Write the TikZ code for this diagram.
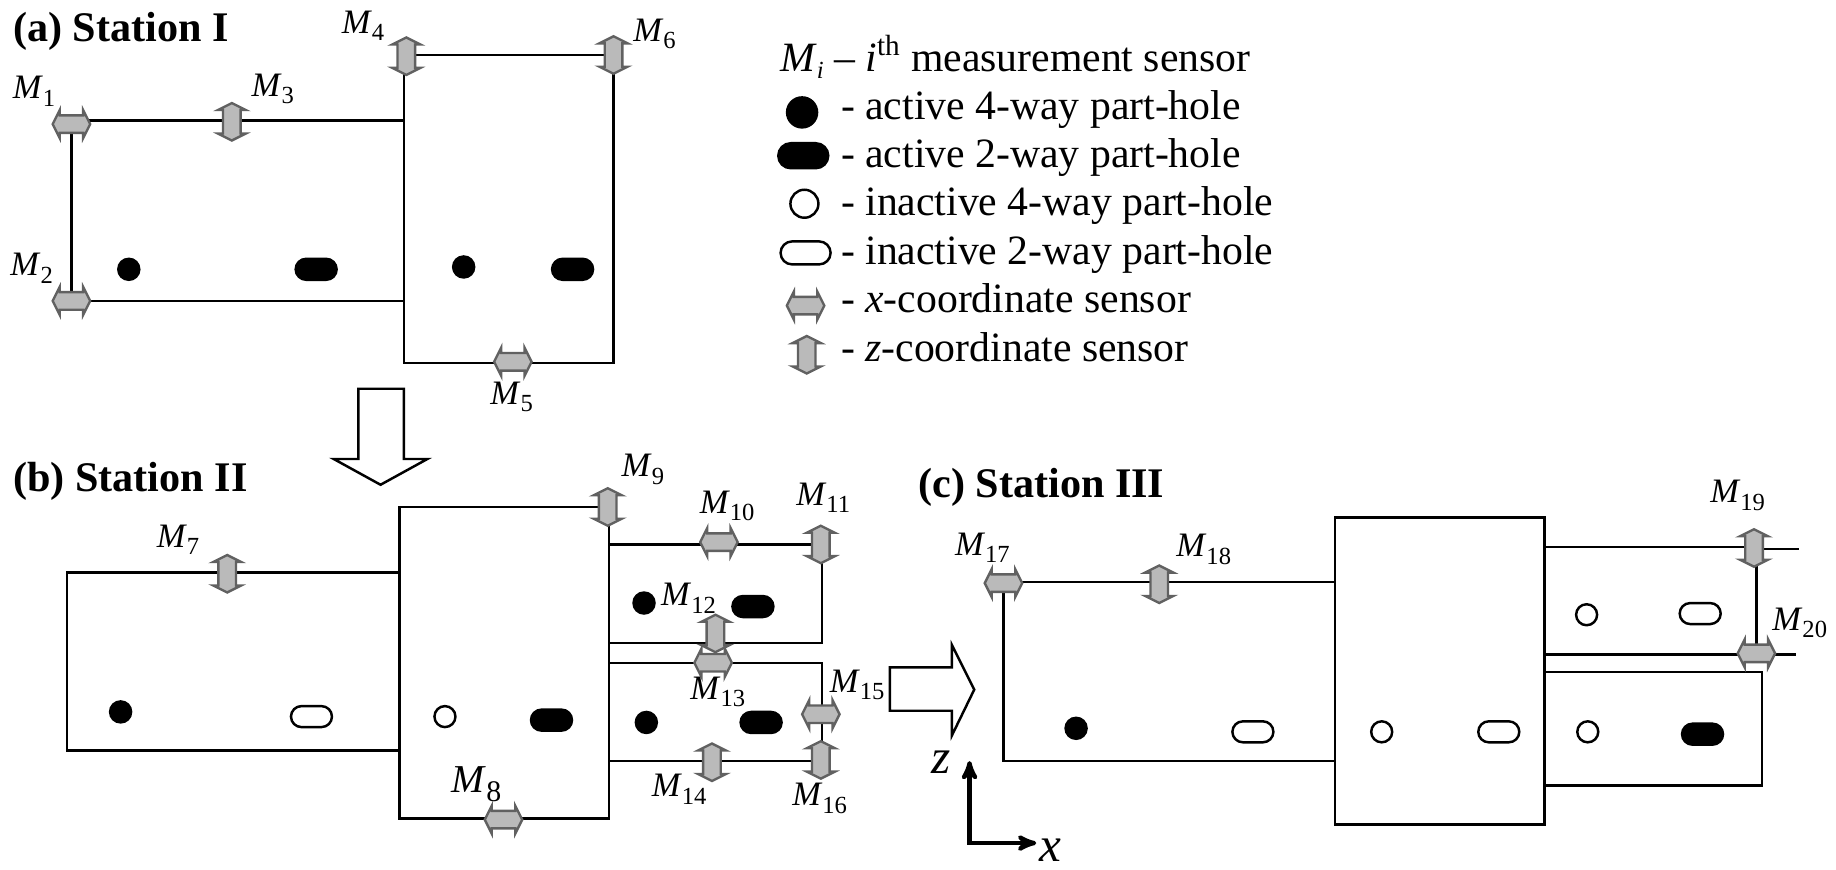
\documentclass[tikz,border=0pt]{standalone}
\usepackage{fontspec}
\setmainfont{Liberation Serif}
\usetikzlibrary{arrows}
\usetikzlibrary{shapes.misc}
\newcommand{\Msub}[1]{\textit{M}\raisebox{-.22em}{\fontsize{14}{14}\selectfont #1}}
\newcommand{\legendfont}{\fontsize{23.75}{28}\selectfont}
\tikzset{
  plate/.style={black, line width=1.4pt},
  sensorline/.style={draw=black!62, fill=black!27, line width=1.35pt, line join=miter},
  xsensor/.pic={\draw[sensorline] (-16,0) -- (-10,-12) -- (-10,-7.5) -- (10,-7.5) -- (10,-12)
    -- (16,0) -- (10,12) -- (10,7.5) -- (-10,7.5) -- (-10,12) -- cycle;},
  zsensor/.pic={\draw[sensorline, rotate=90] (-16,0) -- (-10,-12) -- (-10,-7.5) -- (10,-7.5) -- (10,-12)
    -- (16,0) -- (10,12) -- (10,7.5) -- (-10,7.5) -- (-10,12) -- cycle;},
  hole/.style={draw=black, line width=1.4pt, inner sep=0},
  roundhole/.style={hole, circle, minimum size=.42cm},
  slothole/.style={hole, rounded rectangle, minimum width=.82cm, minimum height=.42cm},
  active/.style={fill=black},
  inactive/.style={fill=white},
  label/.style={font=\fontsize{19.5}{24}\selectfont, inner sep=0},
  title/.style={font=\fontsize{24}{28}\selectfont\bfseries, anchor=west, inner sep=0},
  legend/.style={font=\legendfont, anchor=base west, inner sep=0}
}
\begin{document}
\begin{tikzpicture}[x=.02342cm, y=-.02342cm]
\useasboundingbox (0,0) rectangle (1568,743);
% Station I
\draw[plate] (61,257) -- (61,103) -- (345,103);
\draw[plate] (61,257) -- (345,257);
\draw[plate] (345,47) rectangle (524,310);
% Station II
\draw[plate] (341,489) -- (57,489) -- (57,641) -- (341,641);
\draw[plate] (341,433) rectangle (520,699);
\draw[plate] (520,465) -- (702,465) -- (702,549) -- (520,549);
\draw[plate] (520,566) -- (702,566) -- (702,650) -- (520,650);
% Station III
\draw[plate] (1140,497) -- (857,497) -- (857,650) -- (1140,650);
\draw[plate] (1140,442) rectangle (1319,704);
\draw[plate] (1319,467) -- (1497,467);
\draw[plate] (1497,469) -- (1536,469);
\draw[plate] (1319,559) -- (1534,559);
\draw[plate] (1500,467) -- (1500,559);
\draw[plate] (1319,574) -- (1505,574) -- (1505,671) -- (1319,671);
% block arrows between stations
\draw[plate, fill=white] (306,332) -- (345,332) -- (345,392) -- (365,392) -- (325,414)
  -- (285,392) -- (306,392) -- cycle;
\draw[plate, fill=white] (760,570) -- (813,570) -- (813,551) -- (832,589) -- (813,628)
  -- (813,607) -- (760,607) -- cycle;
% sensors
\foreach \name/\x/\y in {M1/61/106, M2/61/257, M5/438/309, M8/430/700, M10/614/463,
  M13/609/566, M15/701/610, M17/857/498, M20/1500/558, legendx/688/261}
  \pic (\name) at (\x,\y) {xsensor};
\foreach \name/\x/\y in {M3/198/104, M4/347/48, M6/524/47, M7/194/490, M9/519/433,
  M11/701/465, M12/611/541, M14/608/651, M16/701/649, M18/990/499, M19/1498/468, legendz/689/303}
  \pic (\name) at (\x,\y) {zsensor};
% holes
\foreach \name/\x/\y in {a1/110/230, a2/396/228, b1/103/608, b2/550/515, b3/552/617, c1/919/622}
  \node[roundhole, active] (\name) at (\x,\y) {};
\foreach \name/\x/\y in {a3/270/230, a4/489/230, b4/471/615, b5/643/518, b6/650/617, c2/1454/627}
  \node[slothole, active] (\name) at (\x,\y) {};
\foreach \name/\x/\y in {b7/380/612, c3/1180/625, c4/1355/525, c5/1356/625}
  \node[roundhole, inactive] (\name) at (\x,\y) {};
\foreach \name/\x/\y in {b8/266/612, c6/1070/625, c7/1280/625, c8/1452/524}
  \node[slothole, inactive] (\name) at (\x,\y) {};
\node[roundhole, active, minimum size=.6cm] (legendaf) at (685,96) {};
\node[roundhole, inactive, minimum size=.56cm] (legendif) at (687,174) {};
\node[slothole, active, minimum width=1cm, minimum height=.5cm] (legendat) at (686,133) {};
\node[slothole, inactive, minimum width=1cm, minimum height=.46cm] (legendit) at (688,216) {};
% sensor labels
\foreach \i/\x/\y in {1/29/78, 2/27/229, 3/233/76, 4/310/22, 5/437/339, 6/559/29, 7/152/461,
  9/549/401, 10/621/432, 11/703/425, 12/588/511, 13/613/591, 14/580/674, 15/732/585, 16/700/682,
  17/839/468, 18/1028/469, 19/1484/423, 20/1537/532}
  \node[label] (labelM\i) at (\x,\y) {\Msub{\i}};
\node[label, font=\fontsize{22.5}{30}\selectfont] (labelM8) at (407,670)
  {\textit{M}\raisebox{-.22em}{\fontsize{17}{18}\selectfont 8}};
% titles
\node[title] (titleI) at (11,27) {(a) Station I};
\node[title] (titleII) at (11,411) {(b) Station II};
\node[title] (titleIII) at (784,416) {(c) Station III};
% legend
\node[legend] (legendM) at (666,61) {\textit{M}\raisebox{-.18em}{\fontsize{14}{14}\selectfont\textit{i}} -- \textit{i}\textsuperscript{th} measurement sensor};
\foreach \name/\y/\txt in {l1/102/active 4-way part-hole, l2/143/active 2-way part-hole,
  l3/184/inactive 4-way part-hole, l4/226/inactive 2-way part-hole,
  l5/267/\textit{x}-coordinate sensor, l6/309/\textit{z}-coordinate sensor}
  \node[legend] (\name) at (718,\y) {- \txt};
% axes
\coordinate (O) at (828,720);
\coordinate (zend) at (828,650);
\coordinate (xend) at (885,720);
\draw[black, line width=2.4pt, <->, >=stealth'] (zend) -- (O) -- (xend);
\node[label, font=\fontsize{28}{34}\selectfont\itshape] (zlabel) at (804,651) {z};
\node[label, font=\fontsize{28}{34}\selectfont\itshape] (xlabel) at (897,726) {x};
\end{tikzpicture}
\end{document}
